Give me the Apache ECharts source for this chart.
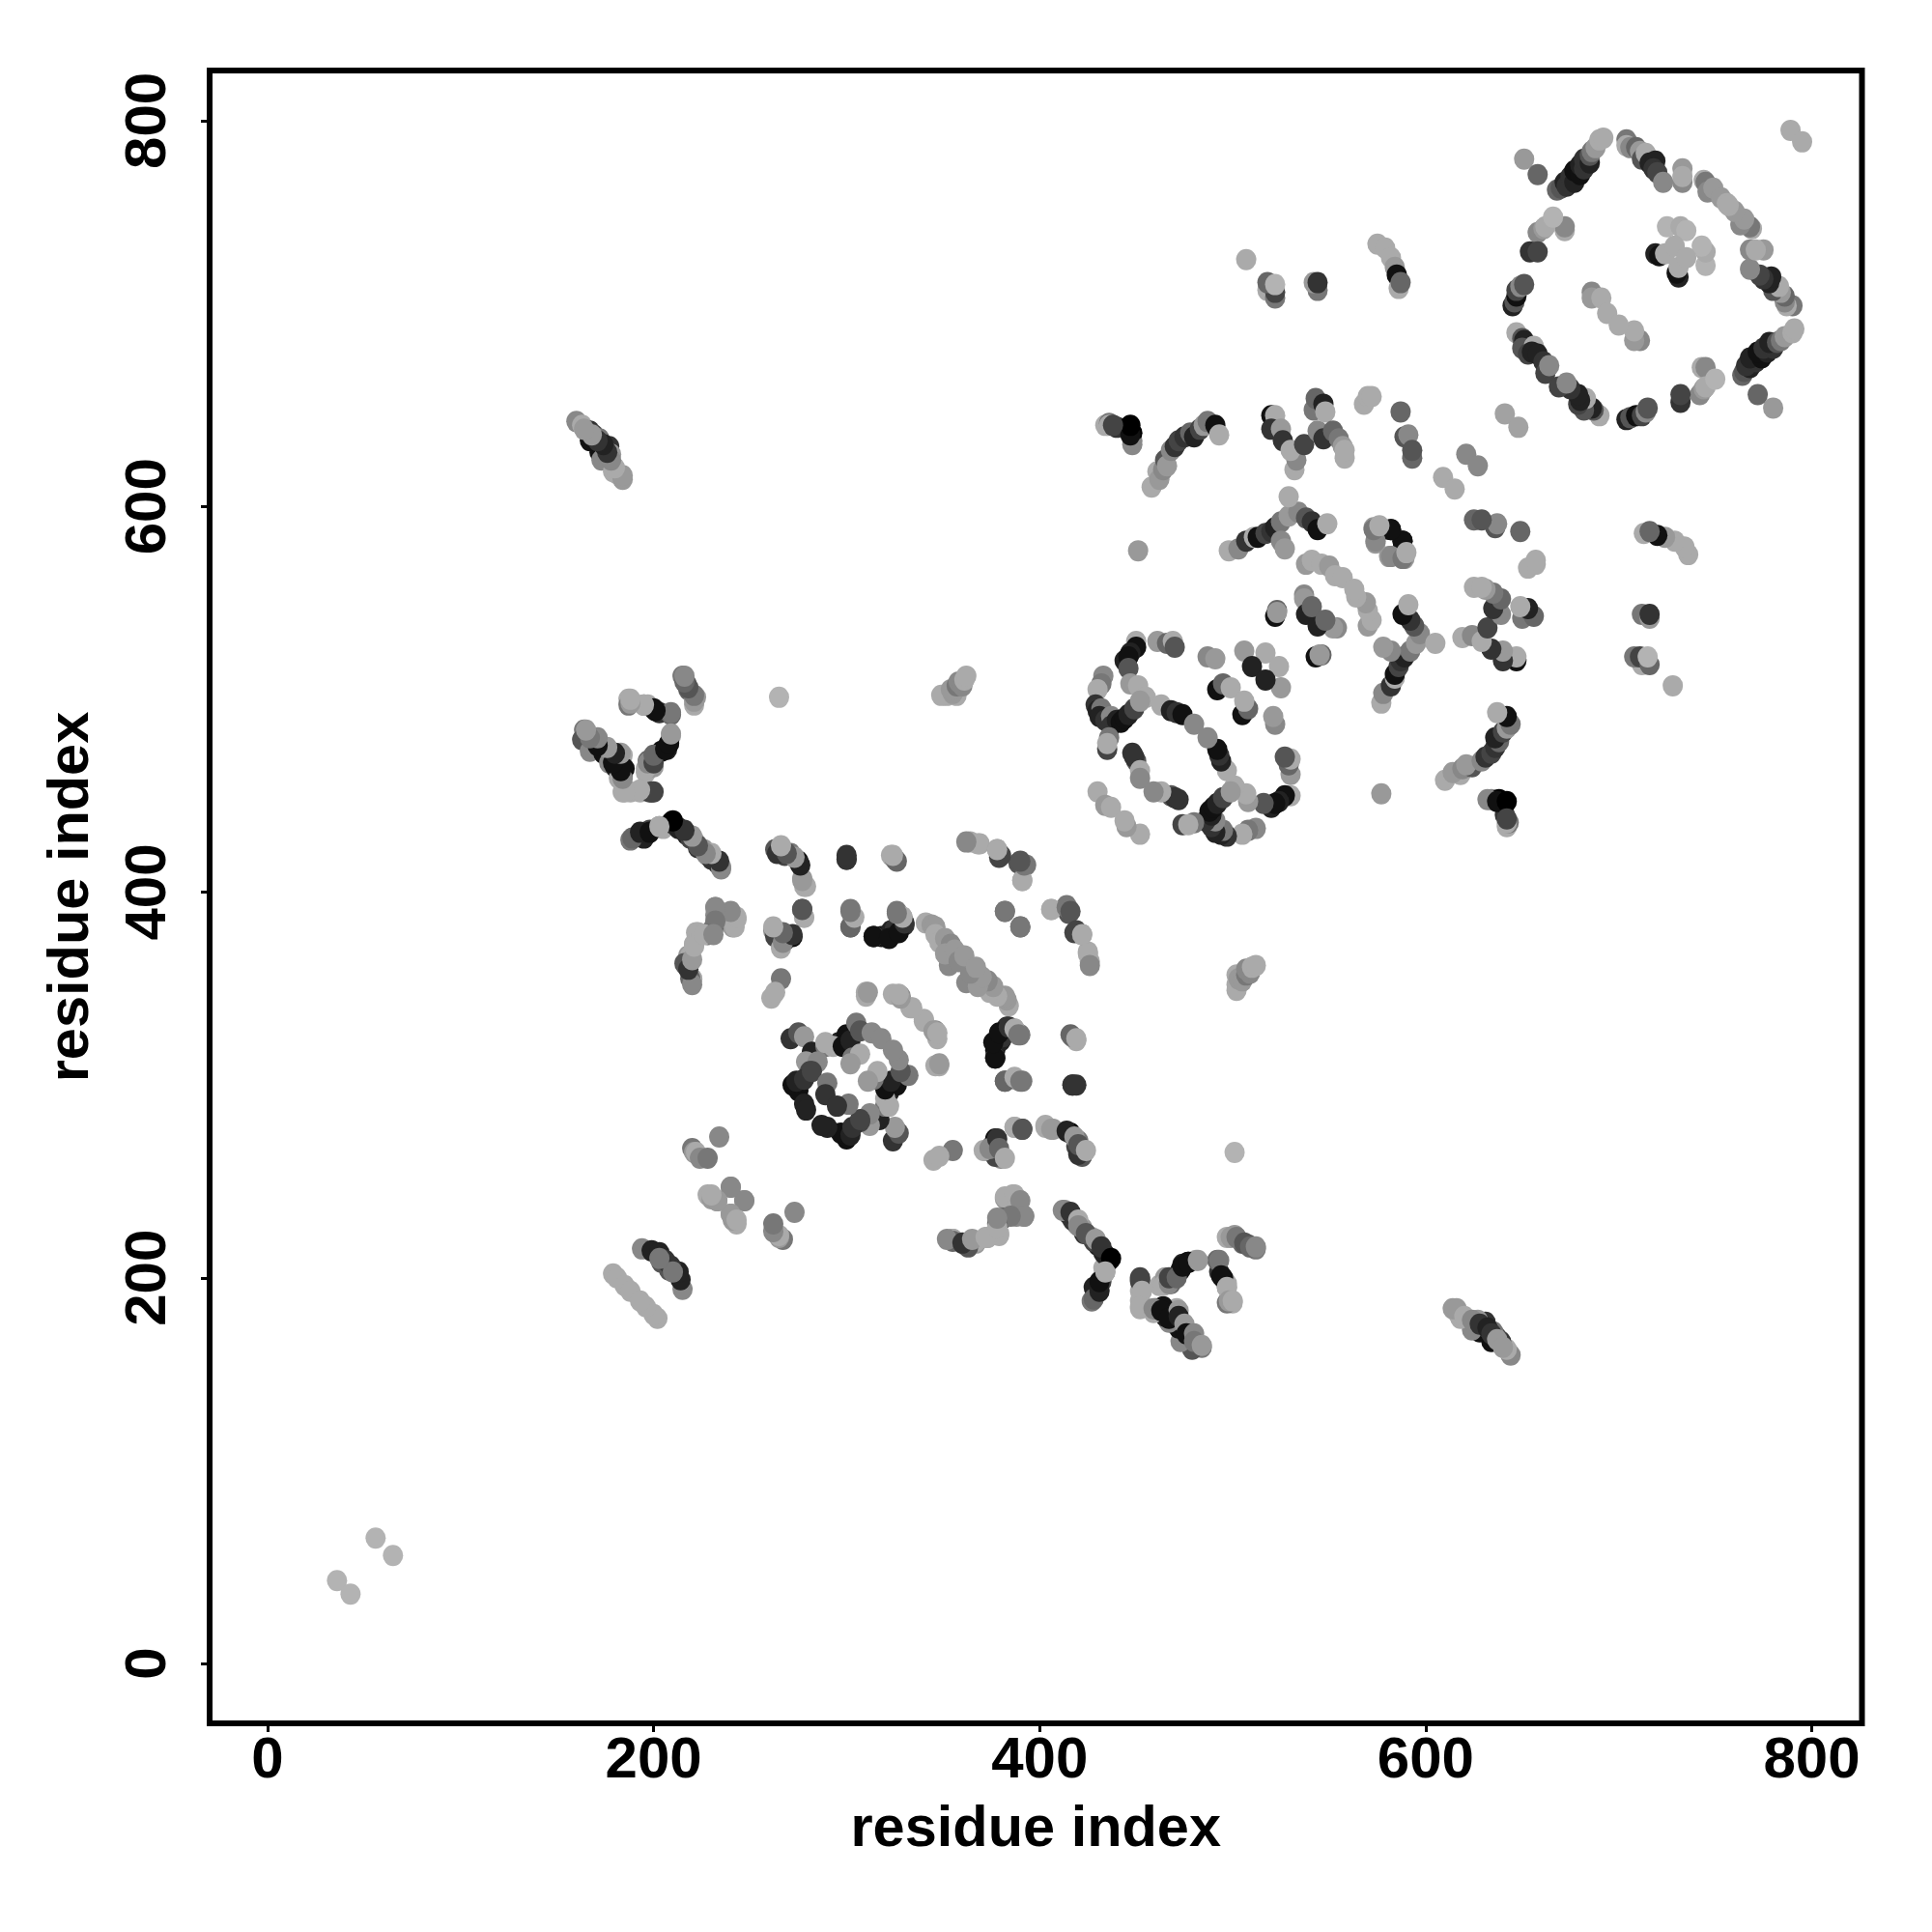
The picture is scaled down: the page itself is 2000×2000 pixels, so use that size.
<!DOCTYPE html>
<html><head><meta charset="utf-8">
<style>html,body{margin:0;padding:0;background:#fff}#c{width:2000px;height:2000px}</style>
<script src="https://cdn.jsdelivr.net/npm/echarts@6/dist/echarts.min.js"></script>
</head><body><div id="c"></div>
<script>
// Contact map: each entry [residue i, residue j, shade 0 (black) .. 10.5 (light grey)]; the map is symmetric in i and j.
const tickValues = [0, 200, 400, 600, 800];
const xTitle = "residue index";
const yTitle = "residue index";

const isolatedPairs = [[36,43,10.5],[56,65,10.5],[789,795,10],[641,648,9.5],[621,627,8],[609,615,10],[265,501,10.5],[451,577,9],[507,728,10]];

const lateDomainRing = [
 [668,764,6],[670,765,5],[672,768,2],[673,766,3],[675,771,3],[677,768,2],[677,774,1],[680,772,1],[680,777,2],[682,775,3],[682,780,3],[685,778,2],[685,782,5],[686,784,7],[688,786,9],[690,790,10],[692,791,10],
 [704,790,7],[704,787,10],[706,786,8],[709,786,6],[711,784,9],[712,780,5],[714,783,10],[716,778,2],[719,779,2],[718,775,3],[720,773,4],[723,768,8],
 [733,768,8],[733,775,9],[733,771,10],
 [744,769,10],[745,768,7],[746,763,8],[749,765,9],[753,760,9],[756,757,10],
 [651,780,9],[658,772,6],
 [658,742,8],[672,743,10],[672,745,8],[661,744,9],[662,745,10],[666,750,10.5],[654,732,3],[658,732,4],
 [645,704,2],[646,706,5],[647,709,1],[647,712,4],[649,714,8],[651,715,5],
 [647,690,10],[650,687,5],[651,686,2],[650,682,5],[656,683,10],[653,679,4],[655,680,2],[658,679,2],[661,675,3],[662,669,4],[664,673,8],
 [686,711,8],[686,708,9],[691,708,10],[694,700,10],
 [725,745,10.5],[732,745,10],[735,743,10.5],[719,731,2],[721,730,1],[724,731,10],[729,735,10]
];

const midLongRange = [
 [518,712,10],[522,708,7],[522,711,4],[518,716,6],[522,715,10.5],
 [544,712,7],[542,716,9],[544,716,3],
 [575,736,10],[579,734,10],[582,729,10],[584,724,9],[585,720,1],[586,713,10],[587,716,6]
];

const midUpperCluster = [
 [458,610,10],[461,618,10],[462,614,9],[464,619,8],[465,624,5],[466,621,9],[468,629,8],[470,631,3],[472,634,4],[475,636,3],[478,638,6],[480,636,2],[483,640,4],[485,642,9],[487,644,7],[491,642,1],[493,637,10],
 [434,642,10],[436,643,7],[440,641,3],[446,641,0],[448,634,8],[448,638,0],
 [520,647,1],[522,647,10],[520,640,3],[525,640,9],[526,634,3],[532,619,10],[533,624,8],[530,629,10],[537,632,4],
 [544,639,8],[542,650,7],[543,656,6],[547,653,2],[548,649,10],[547,635,3],[552,639,6],[555,635,7],[557,631,9],[558,625,10],[558,629,10],
 [568,653,10],[570,657,10],[572,657,10],
 [587,649,6],[589,636,5],[591,637,8],[593,625,6],[593,629,5]
];

const midMiddleCluster = [
 [498,577,10],[503,578,8],[507,582,3],[511,584,10],[513,584,1],[517,586,4],[520,587,3],[522,589,2],[525,592,7],[529,595,9],[534,597,8],
 [529,605,10],[525,582,8],[527,578,9],[538,594,5],[541,592,3],[544,588,1],[549,591,10],
 [574,581,9],[573,589,9],[578,588,7],[582,588,1],[588,582,1],[582,574,8],[588,573,7],[590,576,10],
 [537,554,8],[538,570,9],[541,572,10],[546,570,10],[550,569,9],[553,564,10],[557,563,10]
];

const midLowerRing = [
 [450,530,10],[450,527,1],[447,524,2],[444,520,2],[446,522,1],[446,516,5],[461,530,9],[466,529,6],[469,530,10],[470,527,5],
 [433,512,8],[432,508,7],[430,505,10],[429,497,3],[430,494,2],[432,495,7],[431,491,2],[434,489,3],[437,491,8],[437,486,3],[440,489,2],[442,488,1],[444,490,1],[446,492,2],[449,495,4],[436,480,7],[435,474,4],[435,477,10],
 [447,508,9],[451,507,10],[455,501,10],[452,499,9],
 [463,497,10],[468,494,2],[471,493,3],[474,492,1],[480,487,8],
 [448,472,3],[450,468,5],[449,470,3],[452,463,10],[452,459,8],
 [430,452,10],[434,445,9],[437,444,10],
 [487,522,8],[491,521,9],[506,525,9],[517,524,10],[510,517,2],
 [492,505,1],[495,508,6],[499,506,10],
 [523,546,6],[522,543,1],[523,545,9],
 [537,552,9],[538,544,2],[541,548,6],
 [632,448,8],[637,447,1],[642,447,0],[642,436,10],[642,438,4]
];

const crossDomainLines = [
 [357,502,10],[352,502,10],[349,502,10],[355,503,9],[354,505,9],[357,507,7],[358,509,8],[360,507,8],[361,510,10],[362,512,10],
 [160,644,8],[163,642,10],[167,634,1],[167,639,3],[169,637,4],[172,635,7],[172,628,1],[175,630,5],[177,631,3],[178,627,9],[173,624,8],[176,626,8],[179,618,10],[181,617,10],[184,614,9],
 [616,184,9],[620,180,10],[624,178,8],[628,176,3],[632,174,2],[634,171,3],[637,168,9],[640,164,9]
];

const earlyClusterA = [
 [221,497,10],[215,512,7],[217,508,5],[218,505,6],[222,501,9],
 [187,500,10],[187,497,7],[195,497,8],[197,497,10],[200,495,1],[203,493,3],[209,492,6],
 [164,484,7],[163,479,5],[167,480,4],[171,479,7],[171,477,1],[167,473,8],[176,474,10],[174,472,1],[179,471,3],[177,467,8],[180,465,2],[182,459,10],[184,460,5],[184,471,10],[185,464,1],
 [184,452,10],[188,452,10],[193,452,10],[198,452,4],[200,452,4],
 [196,462,10],[200,465,9],[197,468,6],[200,470,4],[204,473,1],[207,474,2],[208,477,1],[209,481,10]
];

const earlyClusterB = [
 [188,427,7],[193,429,1],[195,428,2],[198,432,4],[203,434,8],[205,433,10],[209,436,1],[212,434,3],[213,433,2],[217,430,2],[221,427,10],[219,428,4],
 [223,423,3],[226,422,9],[228,419,8],[230,417,3],[233,415,3],[235,413,9],
 [266,422,9],[263,422,5],[268,419,4],[271,420,7],[275,416,0],[277,407,9],[278,403,10],
 [300,417,3],[323,419,10],[325,417,7],
 [278,387,10],[277,391,4],
 [302,382,6],[302,391,7],[303,387,10],
 [314,377,1],[318,377,1],[321,377,2],[323,380,2],[325,381,3],[330,383,3],[326,390,7],[329,387,10],
 [262,380,8],[267,378,5],[266,372,10],[263,377,4],[268,375,3],[272,377,1],
 [232,392,8],[232,388,8],[240,388,8],[241,382,9],[243,386,10],[230,380,5],[222,379,10],[221,373,10],[218,367,9],[217,362,2],[220,355,8],[220,355,10]
];

const earlyMidSheet = [
 [266,355,7],[261,345,10],[263,348,10],
 [310,348,10],[324,347,10],[328,346,8],[333,340,10],[340,334,10],[345,328,9],[347,327,10],[346,310,10],[348,311,9],
 [341,384,10],[344,383,9],[346,382,9],[346,378,10],[348,374,10],[351,376,9],[354,373,8],[353,362,8],[351,368,9],[356,370,9],[358,364,8],[361,367,9]
];

const earlyRing = [
 [271,324,3],[275,327,5],[278,325,9],[282,317,2],[279,312,9],[289,320,7],[285,312,8],[281,307,4],
 [296,322,2],[300,326,1],[293,320,10],[289,322,10],[298,320,1],[302,323,2],[305,332,7],[307,328,5],[313,327,8],[318,324,8],
 [272,300,1],[275,297,1],[274,302,2],[278,303,3],[282,307,4],[278,290,2],[279,287,2],
 [290,301,7],[289,295,3],[303,314,7],[307,316,10],[302,311,9]
];

const earlyLowerBlocks = [
 [234,273,8],[220,267,7],[221,265,9],[222,265,10],[224,262,8],[228,262,7],
 [228,243,10],[230,241,9],[233,240,8],[240,247,8],[247,240,8],[240,233,9],[243,230,10],
 [179,202,10],[181,200,10],[185,196,10],[188,193,10],
 [194,215,8],[199,214,2],[203,213,2],[208,204,5],[209,206,3],[210,203,7]
];

const lowerOffDiagonal = [
 [382,242,10],[387,243,10],[390,240,8],[392,232,8],[381,231,6],[385,232,7],[379,223,10],[373,221,10],[367,219,10],[363,216,5],
 [355,219,6],[352,220,8],[360,218,3],[365,220,9],[372,221,10],[378,228,6],[378,226,10],[378,231,8],
 [412,235,8],[416,234,3],[420,230,10],[420,227,8],[424,223,5],[429,220,9],[432,216,3],[437,210,0],
 [428,189,6],[431,193,2],[431,198,1],[434,203,10],
 [452,199,4],[453,193,10],[452,185,10],
 [464,196,10],[467,197,8],[467,200,4],[471,200,6],[474,206,1],[477,208,1],[482,209,9],
 [459,184,8],[463,183,1],[467,179,1],[472,183,9],[472,180,2],[475,176,9],[476,171,1],[480,171,8],[480,167,7],[484,165,9],
 [493,209,7],[494,201,1],[497,195,10],[498,188,9],[500,188,10],
 [499,221,9],[502,221,7],[506,218,5],[509,216,6],[512,216,8]
];

const upperOffDiagonal = [
 [364,426,10],[369,425,10],[378,422,9],[379,418,4],[389,415,5],[393,414,7],[391,406,10],
 [382,390,7],[390,382,7],
 [406,391,10],[414,392,7],[416,390,5],[419,380,4],[422,378,10],[425,368,10],[426,362,8],
 [377,314,8],[377,314,1],[376,322,1],[379,327,1],[384,330,3],[387,329,10],[389,326,7],
 [416,326,6],[419,324,10],
 [382,302,6],[387,304,10],[390,302,7],
 [417,300,3],[419,300,3],
 [387,278,10],[391,277,5],
 [403,279,10],[406,277,9],[414,276,2],[418,273,9],[420,264,3],[420,269,5],[424,266,10],
 [371,266,10],[374,267,8],[378,272,3],[379,267,6],[382,262,10]
];

const groups = [isolatedPairs, lateDomainRing, midLongRange, midUpperCluster, midMiddleCluster, midLowerRing,
  crossDomainLines, earlyClusterA, earlyClusterB, earlyMidSheet, earlyRing, earlyLowerBlocks, lowerOffDiagonal, upperOffDiagonal];

const points = [];
groups.forEach(g => g.forEach(p => {
  points.push([p[0], p[1], p[2]]);
  points.push([p[1], p[0], p[2]]);
}));

const labelFont = "Liberation Sans";
const chart = echarts.init(document.getElementById('c'), null, {renderer:'canvas'});
const axisCommon = {
  type:'value', splitLine:{show:false}, axisLine:{show:false,onZero:false},
  axisTick:{show:true, inside:false, length:9, lineStyle:{color:'#000',width:3}, customValues:tickValues},
  nameLocation:'middle',
  nameTextStyle:{fontFamily:labelFont,fontWeight:'bold',fontSize:59.5,color:'#000'}
};
chart.setOption({
  animation:false,
  backgroundColor:'#fff',
  grid:{show:true,left:217,top:73,width:1710.5,height:1711,borderColor:'#000',borderWidth:6,backgroundColor:'#fff',containLabel:false},
  xAxis:Object.assign({},axisCommon,{min:-30,max:826,name:xTitle,nameGap:81,
    axisLabel:{customValues:tickValues,fontFamily:labelFont,fontWeight:'bold',fontSize:60,color:'#000',margin:9}}),
  yAxis:Object.assign({},axisCommon,{min:-31,max:826,name:yTitle,nameGap:112,
    axisLabel:{customValues:tickValues,rotate:90,fontFamily:labelFont,fontWeight:'bold',fontSize:60,color:'#000',margin:33}}),
  series:[{
    type:'scatter',
    symbol:'circle',
    symbolSize:[21,22],
    large:false,
    itemStyle:{opacity:1,color:function(p){const v=Math.round(p.value[2]*17);return 'rgb('+v+','+v+','+v+')';}},
    data:points
  }]
});
</script></body></html>
